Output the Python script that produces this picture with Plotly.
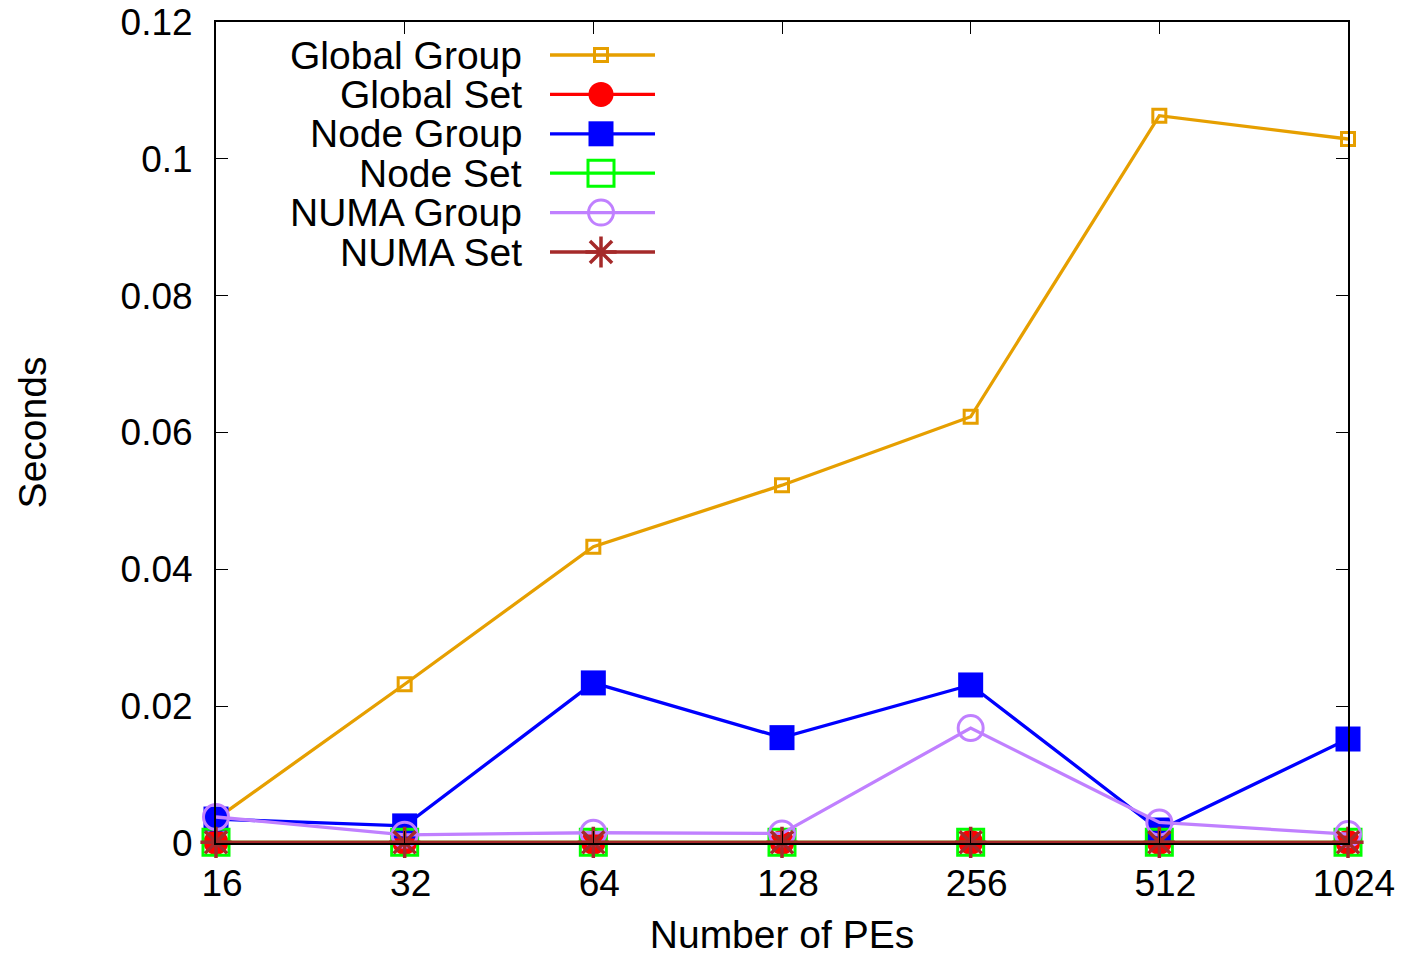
import math
import plotly.graph_objects as go

pes = [16, 32, 64, 128, 256, 512, 1024]
global_group = [0.0035, 0.0232, 0.0433, 0.0523, 0.0623, 0.1063, 0.1029]
global_set = [0.0001, 0.0001, 0.0001, 0.0001, 0.0001, 0.0001, 0.0001]
node_group = [0.0035, 0.0025, 0.0234, 0.0154, 0.0231, 0.0019, 0.0152]
node_set = [0.0001, 0.0001, 0.0001, 0.0001, 0.0001, 0.0001, 0.0001]
numa_group = [0.0038, 0.0012, 0.0015, 0.0014, 0.0168, 0.0030, 0.0013]
numa_set = [0.0001, 0.0001, 0.0001, 0.0001, 0.0001, 0.0001, 0.0001]

series_names = ["Global Group", "Global Set", "Node Group", "Node Set", "NUMA Group", "NUMA Set"]
y_ticks = [0, 0.02, 0.04, 0.06, 0.08, 0.1, 0.12]
y_tick_text = ["0", "0.02", "0.04", "0.06", "0.08", "0.1", "0.12"]

# styles: colour, symbol, size, marker line width
styles = [
    ("#E69F00", "square-open", 13, 3),
    ("#FF0000", "circle", 25, 0),
    ("#0000FF", "square", 25, 0),
    ("#00FF00", "square-open", 26, 3),
    ("#C080FF", "circle-open", 25, 3),
    ("#A52A2A", "asterisk-open", 26, 3.5),
]
values = [global_group, global_set, node_group, node_set, numa_group, numa_set]

FS = 37
FS_BIG = 39
LW = 3.3
EPS = 1e-6
font_family = "Liberation Sans, Arial, Helvetica, sans-serif"

fig = go.Figure()
for name, vals, (color, sym, size, mlw) in zip(series_names, values, styles):
    fig.add_trace(go.Scatter(
        x=pes, y=vals, name=name, mode="lines+markers",
        line=dict(color=color, width=LW),
        marker=dict(symbol=sym, size=size, color=color, opacity=1,
                    line=dict(color=color, width=mlw)),
        cliponaxis=False, showlegend=False,
    ))

# gnuplot-style key (text right-aligned, sample to the right), drawn on an
# overlay axis measured in plot-area pixels
PLOT_L, PLOT_R, PLOT_T, PLOT_B = 216, 1348, 22, 843
KEY_TOP, KEY_STEP = 55, 39.4
KEY_TEXT_R, KEY_X0, KEY_XM, KEY_X1 = 524, 550, 601, 655
for i, (name, (color, sym, size, mlw)) in enumerate(zip(series_names, styles)):
    ky = KEY_TOP + i * KEY_STEP
    fig.add_trace(go.Scatter(
        x=[KEY_X0, KEY_XM, KEY_X1], y=[ky, ky, ky], xaxis="x2", yaxis="y2",
        mode="lines+markers", showlegend=False, hoverinfo="skip",
        line=dict(color=color, width=LW),
        marker=dict(symbol=sym, size=[0, size, 0], color=color, opacity=1,
                    line=dict(color=color, width=[0, mlw, 0])),
    ))
    fig.add_annotation(
        x=KEY_TEXT_R, y=ky, xref="x2", yref="y2", text=name,
        showarrow=False, xanchor="right", yanchor="middle",
        font=dict(size=FS_BIG, family=font_family, color="black"),
    )

fig.update_layout(
    width=1404, height=958,
    margin=dict(l=PLOT_L, r=1404 - PLOT_R, t=PLOT_T, b=958 - PLOT_B,
                autoexpand=False),
    paper_bgcolor="white", plot_bgcolor="white",
    font=dict(family=font_family, size=FS, color="black"),
    showlegend=False,
    xaxis=dict(
        type="log",
        range=[math.log10(pes[0]) - EPS, math.log10(pes[-1]) + EPS],
        tickvals=pes, ticktext=[str(p) for p in pes],
        ticks="inside", ticklen=12, tickcolor="black",
        showline=True, linecolor="black", linewidth=2, mirror="allticks",
        showgrid=False, zeroline=False, automargin=False,
        title=dict(text="Number of PEs", standoff=17, font=dict(size=FS_BIG)),
        ticklabelstandoff=7, ticklabelshift=6, ticklabeloverflow="allow",
    ),
    yaxis=dict(
        range=[0, 0.12], tickvals=y_ticks, ticktext=y_tick_text,
        ticks="inside", ticklen=12, tickcolor="black",
        showline=True, linecolor="black", linewidth=2, mirror="allticks",
        showgrid=False, zeroline=False, automargin=False,
        title=dict(text="Seconds", standoff=62, font=dict(size=FS_BIG)),
        ticklabelstandoff=14, ticklabeloverflow="allow",
    ),
    xaxis2=dict(overlaying="x", range=[PLOT_L, PLOT_R], visible=False,
                fixedrange=True),
    yaxis2=dict(overlaying="y", range=[PLOT_B, PLOT_T], visible=False,
                fixedrange=True),
)

fig.write_html("out.html", config={"displayModeBar": False},
               post_script="document.body.style.margin='0';")
